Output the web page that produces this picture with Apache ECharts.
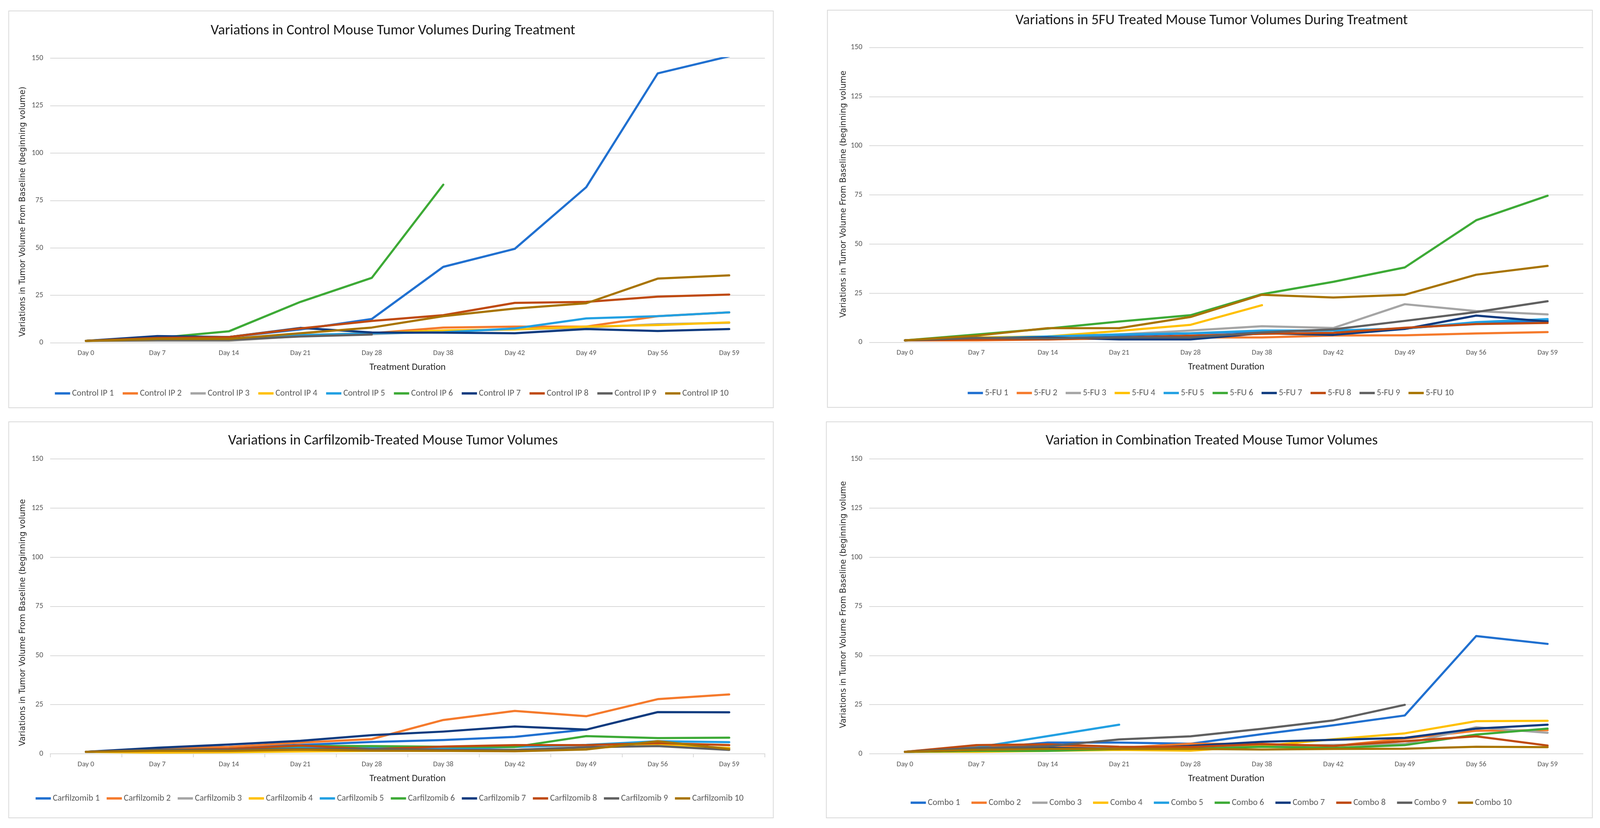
<!DOCTYPE html>
<html>
<head>
<meta charset="utf-8">
<script src="https://cdn.jsdelivr.net/npm/echarts@6/dist/echarts.min.js"></script>
<style>
html,body{margin:0;padding:0;background:#fff;overflow:hidden;}
#c{width:100vw;height:100vh;}
</style>
</head>
<body>
<div id="c"></div>
<script>
// ---------------- DATA ----------------
const categories = ['Day 0','Day 7','Day 14','Day 21','Day 28','Day 38','Day 42','Day 49','Day 56','Day 59'];
const yTicks = [0, 25, 50, 75, 100, 125, 150];

const controlNames = ['Control IP 1','Control IP 2','Control IP 3','Control IP 4','Control IP 5','Control IP 6','Control IP 7','Control IP 8','Control IP 9','Control IP 10'];
const controlData = [
  [1, 3, 3, 7, 12.5, 40, 49.5, 82, 142, 151],
  [1, 2, 2, 4, 5, 8, 8.5, 8.5, 14, 16],
  [1, 1, 1, 3.5, 4.5, 6, 7, 8, 9.8, 10.5],
  [1, 1.5, 1.5, 4, 5, 6.5, 7, 8.5, 9.3, 10.7],
  [1, 2, 2, 4, 5, 5.5, 7.5, 12.8, 14, 16],
  [1, 2.5, 6, 21.5, 34.2, 83.3, null, null, null, null],
  [1, 3.5, 3, 7.8, 5.4, 5.3, 5, 7.2, 6.2, 7.2],
  [1, 2.5, 3, 7.5, 11.5, 14.5, 21, 21.5, 24.3, 25.4],
  [1, 1.5, 1.5, 3.3, 4.3, null, null, null, null, null],
  [1, 2, 2, 5, 8, 14, 18, 20.8, 33.8, 35.5]
];

const fuNames = ['5-FU 1','5-FU 2','5-FU 3','5-FU 4','5-FU 5','5-FU 6','5-FU 7','5-FU 8','5-FU 9','5-FU 10'];
const fuData = [
  [1, 2, 2.5, 3.5, 4.5, 5.5, 6, 7, 10, 11],
  [1, 1, 1.5, 2, 2.5, 2.5, 3.5, 3.6, 4.5, 5.2],
  [1, 2.5, 3, 4, 6, 8.2, 7.3, 19.4, 15.9, 14.2],
  [1, 2.5, 3, 5.8, 8.9, 18.9, null, null, null, null],
  [1, 2, 3, 4, 4.6, 6, 6, 7, 10.3, 11.8],
  [1, 4, 7, 10.6, 13.8, 24.5, 30.8, 38.1, 62.1, 74.6],
  [1, 2, 2.5, 1.5, 1.5, 4.6, 3.8, 6.8, 13.6, 10.6],
  [1, 1.5, 1.5, 2.5, 3.4, 4.3, 4.8, 7.4, 9.3, 9.9],
  [1, 2.3, 2, 2.5, 2.5, 5, 6.6, 10.9, 15.4, 20.9],
  [1, 3.4, 7.2, 7.2, 12.9, 24.2, 22.8, 24.2, 34.4, 38.9]
];

const carfNames = ['Carfilzomib 1','Carfilzomib 2','Carfilzomib 3','Carfilzomib 4','Carfilzomib 5','Carfilzomib 6','Carfilzomib 7','Carfilzomib 8','Carfilzomib 9','Carfilzomib 10'];
const carfData = [
  [1, 2.5, 3.5, 4.5, 6, 7, 8.6, 12.3, null, null],
  [1, 2.5, 3.5, 5.7, 7.5, 17.2, 21.8, 19.1, 27.8, 30.2],
  [1, 1.5, 1.5, 2, 2, 2, 2, 3, 4.5, 3],
  [1, 0.6, 0.8, 1.2, 1.5, 1.5, 2, 3, 4.5, 3],
  [1, 2, 2.5, 3.5, 3, 2.5, 3.5, 4.5, 6.4, 5.9],
  [1, 2, 2.5, 4, 3.9, 3.6, 3.5, 9, 8, 8.2],
  [1, 3.1, 4.7, 6.6, 9.5, 11.3, 13.9, 12.3, 21.2, 21.1],
  [1, 2, 2.5, 4.2, 2.4, 3.7, 4.4, 4.4, 5.4, 4.4],
  [1, 2, 2, 2.5, 2.5, 2, 2, 3.4, 3.9, 2],
  [1, 1.5, 1.5, 2.1, 1.6, 1.5, 1.3, 2.2, 6.4, 2.4]
];

const comboNames = ['Combo 1','Combo 2','Combo 3','Combo 4','Combo 5','Combo 6','Combo 7','Combo 8','Combo 9','Combo 10'];
const comboData = [
  [1, 2.5, 5.7, 5.7, 5.1, 10, 14.5, 19.5, 59.9, 55.9],
  [1, 4, 4, 3, 5.1, 5, 4, 7.7, 11.7, 12],
  [1, 2, 2.5, 3, 3.5, 4, 4.5, 5, 13.5, 10.7],
  [1, 1, 1.5, 2, 1.6, 4, 7.4, 10.4, 16.6, 16.8],
  [1, 3.2, 9, 14.8, null, null, null, null, null, null],
  [1, 1.5, 1.5, 2.5, 2.5, 3.6, 3, 4.4, 9.8, 12.8],
  [1, 2, 3, 2.5, 4, 6.1, 7.1, 8.1, 12.8, 14.8],
  [1, 4.4, 4.8, 3.6, 3.5, 4.9, 4, 6.4, 8.9, 4.2],
  [1, 3, 3.8, 7.3, 8.9, 12.7, 17, 24.9, null, null],
  [1, 2, 2.5, 2.5, 2.5, 2.2, 2.5, 2.6, 3.6, 3.4]
];

const panelTitles = [
  'Variations in Control Mouse Tumor Volumes During Treatment',
  'Variations in 5FU Treated Mouse Tumor Volumes During Treatment',
  'Variations in Carfilzomib-Treated Mouse Tumor Volumes',
  'Variation in Combination Treated Mouse Tumor Volumes'
];
const yAxisTitles = [
  'Variations in Tumor Volume From Baseline (beginning volume)',
  'Variations in Tumor Volume From Baseline (beginning volume',
  'Variations in Tumor Volume From Baseline (beginning volume',
  'Variations in Tumor Volume From Baseline (beginning volume'
];
const xAxisTitle = 'Treatment Duration';

// ---------------- STYLE / LAYOUT ----------------
const palette = ['#2070D0','#F57A2C','#A5A5A5','#FFC000','#22A0E2','#3DAA36','#0F3B7F','#BF4A10','#606060','#A87400'];

// the design is laid out on a 4403 x 2120 page; scale to the actual viewport
const SX = window.innerWidth / 4403;
const SY = window.innerHeight / 2120;
const X = v => v * SX, Y = v => v * SY;

const cv = document.createElement('canvas').getContext('2d');
function has(f){
  const s='abcdefghijklmnopqrstuvwxyzABCDEFGHIJ0123456789';
  cv.font='100px monospace'; const a=cv.measureText(s).width;
  cv.font='100px "'+f+'", monospace'; const b=cv.measureText(s).width;
  cv.font='100px serif'; const c=cv.measureText(s).width;
  cv.font='100px "'+f+'", serif'; const d=cv.measureText(s).width;
  return a!==b && c!==d;
}
const NARROW = ['Carlito','Lato'].find(has) || 'sans-serif';
const WIDE = has('DejaVu Sans') ? 'DejaVu Sans' : 'sans-serif';
function mw(text, size, fam){ cv.font = size+'px "'+fam+'"'; return cv.measureText(text).width; }
function fit(text, target, fam){ return 100*X(target)/mw(text,100,fam); }

const titleFS = fit(panelTitles[0], 1004, NARROW);
const tickFS = fit('Day 59', 56, NARROW);
const yTickFS = fit('150', 32, NARROW);
const legendFS = fit('Control IP 1', 115, NARROW);
const xNameFS = fit(xAxisTitle, 210, NARROW);
const yNameFS = Math.min(fit(yAxisTitles[0], 689, WIDE), 24);

const panels = [
  {names: controlNames, data: controlData, grid:{left:138, top:149, width:1967, height:728.5},
   border:[24,28,2104,1016], titleX:1076, titleY:74, yNameX:63, yNameY:542, legendX:[151,2005], legendY:1007, ticks:false},
  {names: fuNames, data: fuData, grid:{left:2392, top:121.6, width:1965, height:754.9},
   border:[2277,26,2105,1017], titleX:3329, titleY:48, yNameX:2321, yNameY:497, legendX:[2663,4000], legendY:1006, ticks:false},
  {names: carfNames, data: carfData, grid:{left:138, top:1175, width:1967, height:755},
   border:[24,1080,2104,1014], titleX:1076, titleY:1124, yNameX:63, yNameY:1594, legendX:[98,2046], legendY:2044, ticks:true},
  {names: comboNames, data: comboData, grid:{left:2392, top:1175, width:1965, height:755},
   border:[2274,1080,2108,1014], titleX:3329, titleY:1124, yNameX:2321, yNameY:1548, legendX:[2506,4160], legendY:2055, ticks:false}
];

const ICON_W = X(42);
const grids=[], xAxes=[], yAxes=[], series=[], titles=[], legends=[], graphics=[];
panels.forEach((p, i) => {
  grids.push({left:X(p.grid.left), top:Y(p.grid.top), width:X(p.grid.width), height:Y(p.grid.height), containLabel:false});
  xAxes.push({
    type:'category', gridIndex:i, data:categories, boundaryGap:true,
    axisLine:{show:p.ticks, lineStyle:{color:'#D9D9D9', width:2}},
    axisTick:{show:p.ticks, length:9, lineStyle:{color:'#D9D9D9', width:2}},
    axisLabel:{color:'#595959', fontSize:tickFS, fontFamily:NARROW, margin:Y(27) - tickFS/2},
    name:xAxisTitle, nameLocation:'middle', nameGap:Y(64) - xNameFS/2,
    nameTextStyle:{color:'#262626', fontSize:xNameFS, fontFamily:NARROW}
  });
  yAxes.push({
    type:'value', gridIndex:i, min:yTicks[0], max:yTicks[yTicks.length-1], interval:yTicks[1]-yTicks[0],
    axisLine:{show:false}, axisTick:{show:false},
    axisLabel:{color:'#595959', fontSize:yTickFS, fontFamily:NARROW, margin:X(19)},
    splitLine:{lineStyle:{color:'#D9D9D9', width:2}}
  });
  p.names.forEach((n, k) => {
    series.push({
      name:n, type:'line', xAxisIndex:i, yAxisIndex:i, data:p.data[k],
      symbol:'none', showSymbol:false, connectNulls:false, animation:false,
      lineStyle:{color:palette[k], width:5.5, cap:'round', join:'round'},
      itemStyle:{color:palette[k]}
    });
  });
  titles.push({
    text:panelTitles[i], left:X(p.titleX), top:Y(p.titleY) - titleFS/2, textAlign:'center',
    textStyle:{color:'#1A1A1A', fontSize:titleFS, fontFamily:NARROW, fontWeight:'normal', lineHeight:titleFS}
  });
  const span = X(p.legendX[1]-p.legendX[0]);
  let tot = 0; p.names.forEach(n => { tot += ICON_W + 5 + mw(n, legendFS, NARROW); });
  const gap = Math.max(4, (span - tot)/(p.names.length-1));
  legends.push({
    data:p.names, orient:'horizontal', left:X(p.legendX[0]), top:Y(p.legendY) - legendFS/2,
    itemWidth:ICON_W, itemHeight:6, itemGap:gap, icon:'rect', padding:0,
    textStyle:{color:'#595959', fontSize:legendFS, fontFamily:NARROW, lineHeight:legendFS},
    selectedMode:false
  });
  graphics.push({
    type:'rect', shape:{x:X(p.border[0]), y:Y(p.border[1]), width:X(p.border[2]), height:Y(p.border[3])},
    style:{fill:'none', stroke:'#D9D9D9', lineWidth:2}, z:-10, silent:true
  });
  graphics.push({
    type:'text', x:X(p.yNameX), y:Y(p.yNameY), rotation:Math.PI/2, silent:true,
    style:{text:yAxisTitles[i], fill:'#262626', fontSize:yNameFS, fontFamily:WIDE,
           textAlign:'center', textVerticalAlign:'middle'}
  });
});

const chart = echarts.init(document.getElementById('c'), null, {renderer:'canvas'});
chart.setOption({
  backgroundColor:'#ffffff',
  animation:false,
  title:titles, grid:grids, xAxis:xAxes, yAxis:yAxes, legend:legends,
  series:series, graphic:graphics
});
</script>
</body>
</html>
